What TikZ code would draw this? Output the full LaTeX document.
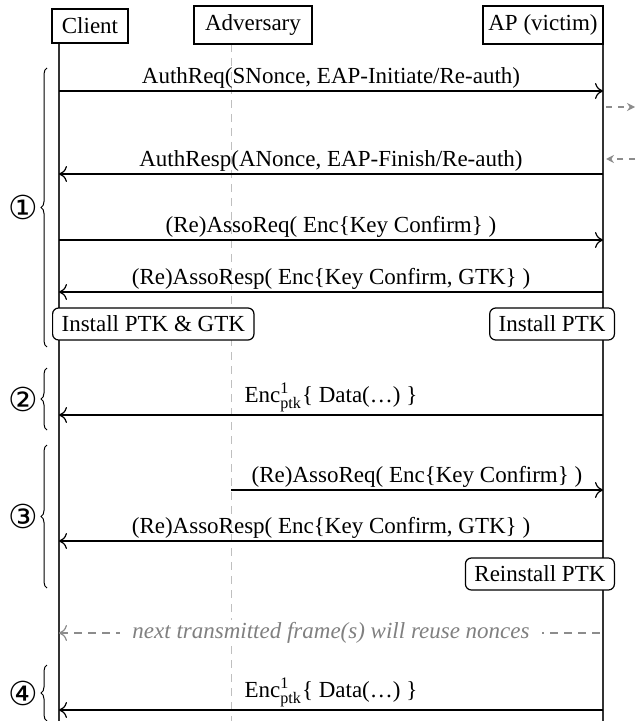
\documentclass[tikz,border=0pt]{standalone}
\usepackage{amsmath}
\usepackage{fontspec}
\setmainfont{Liberation Serif}
\newfontfamily\circfont{DejaVu Sans}
\usetikzlibrary{arrows.meta,decorations.pathreplacing}
\begin{document}
\begin{tikzpicture}[x=0.5pt,y=-0.5pt,
  font=\fontsize{11.5}{13}\selectfont,
  hdr/.style={draw, line width=0.6pt, inner sep=0pt, fill=white},
  act/.style={draw, rounded corners=3pt, line width=0.6pt, fill=white, inner xsep=4.5pt, inner ysep=0pt, minimum height=16pt},
  life/.style={line width=0.6pt, draw=black!80},
  advlife/.style={line width=0.5pt, draw=black!25, dash pattern=on 4pt off 3pt},
  msg/.style={line width=0.6pt, -{To[length=4pt,width=8pt]}},
  lbl/.style={above, inner sep=1pt},
  side/.style={draw=black!45, line width=0.6pt, dash pattern=on 3pt off 3pt, -{Stealth[length=4pt,width=4pt]}},
  note/.style={draw=black!45, line width=0.6pt, dash pattern=on 4pt off 3pt, {To[length=4pt,width=8pt]}-},
  brc/.style={decorate, decoration={brace, amplitude=3pt}, line width=0.5pt},
  num/.style={font=\circfont\fontsize{16.5}{18}\selectfont, anchor=east, inner sep=0pt},
]
\useasboundingbox (0,0) rectangle (641,721);

% lifeline coordinates
\coordinate (cT) at (59,43);  \coordinate (cB) at (59,725);
\coordinate (aT) at (231,44); \coordinate (aB) at (231,725);
\coordinate (pT) at (603,44); \coordinate (pB) at (603,725);

\draw[advlife] (aT) -- (aB);
\draw[life] (cT) -- (cB);
\draw[life] (pT) -- (pB);

% headers
\node[hdr, minimum width=38pt, minimum height=17pt] (client) at (90,26) {Client};
\node[hdr, minimum width=59pt, minimum height=19pt] (adv) at (253,25) {Adversary};
\node[hdr, minimum width=60pt, minimum height=19pt] (ap) at (543,25) {AP (victim)};

% phase 1
\coordinate (m1a) at (59,91);  \coordinate (m1b) at (603,91);
\draw[msg] (m1a) -- node[lbl] (l1) {AuthReq(SNonce, EAP-Initiate/Re-auth)} (m1b);
\coordinate (s1a) at (606,107); \coordinate (s1b) at (635,107);
\draw[side] (s1a) -- (s1b);
\coordinate (s2a) at (606,159); \coordinate (s2b) at (635,159);
\draw[side] (s2b) -- (s2a);
\coordinate (m2a) at (59,174); \coordinate (m2b) at (603,174);
\draw[msg] (m2b) -- node[lbl] (l2) {AuthResp(ANonce, EAP-Finish/Re-auth)} (m2a);
\coordinate (m3a) at (59,240); \coordinate (m3b) at (603,240);
\draw[msg] (m3a) -- node[lbl] (l3) {(Re)AssoReq( Enc\{Key Confirm\} )} (m3b);
\coordinate (m4a) at (59,292); \coordinate (m4b) at (603,292);
\draw[msg] (m4b) -- node[lbl] (l4) {(Re)AssoResp( Enc\{Key Confirm, GTK\} )} (m4a);
\node[act, anchor=west] (inst1) at (52,324) {Install PTK \& GTK};
\node[act, anchor=east] (inst2) at (615,324) {Install PTK};

% phase 2
\coordinate (m5a) at (59,415); \coordinate (m5b) at (603,415);
\draw[msg] (m5b) -- node[lbl] (l5) {Enc$^{\text{1}}_{\text{ptk}}$\{ Data(…) \}} (m5a);

% phase 3
\coordinate (m6a) at (231,490); \coordinate (m6b) at (603,490);
\draw[msg] (m6a) -- node[lbl] (l6) {(Re)AssoReq( Enc\{Key Confirm\} )} (m6b);
\coordinate (m7a) at (59,541); \coordinate (m7b) at (603,541);
\draw[msg] (m7b) -- node[lbl] (l7) {(Re)AssoResp( Enc\{Key Confirm, GTK\} )} (m7a);
\node[act, anchor=east] (reinst) at (615,574) {Reinstall PTK};

% note
\coordinate (m8a) at (59,633); \coordinate (m8b) at (603,633);
\draw[note] (m8a) -- node[fill=white, inner xsep=6pt, inner ysep=1pt, text=black!50, font=\fontsize{11.5}{13}\selectfont\itshape] (l8) {next transmitted frame(s) will reuse nonces} (m8b);

% phase 4
\coordinate (m9a) at (59,710); \coordinate (m9b) at (603,710);
\draw[msg] (m9b) -- node[lbl] (l9) {Enc$^{\text{1}}_{\text{ptk}}$\{ Data(…) \}} (m9a);

% braces
\coordinate (b1t) at (47,68);  \coordinate (b1b) at (47,347);
\coordinate (b2t) at (47,368); \coordinate (b2b) at (47,430);
\coordinate (b3t) at (47,445); \coordinate (b3b) at (47,588);
\coordinate (b4t) at (47,665); \coordinate (b4b) at (47,721);
\draw[brc] (b1b) -- (b1t);
\draw[brc] (b2b) -- (b2t);
\draw[brc] (b3b) -- (b3t);
\draw[brc] (b4b) -- (b4t);
\node[num] (n1) at (38,207.5) {①};
\node[num] (n2) at (38,399) {②};
\node[num] (n3) at (38,516.5) {③};
\node[num] (n4) at (38,693) {④};
\end{tikzpicture}
\end{document}
